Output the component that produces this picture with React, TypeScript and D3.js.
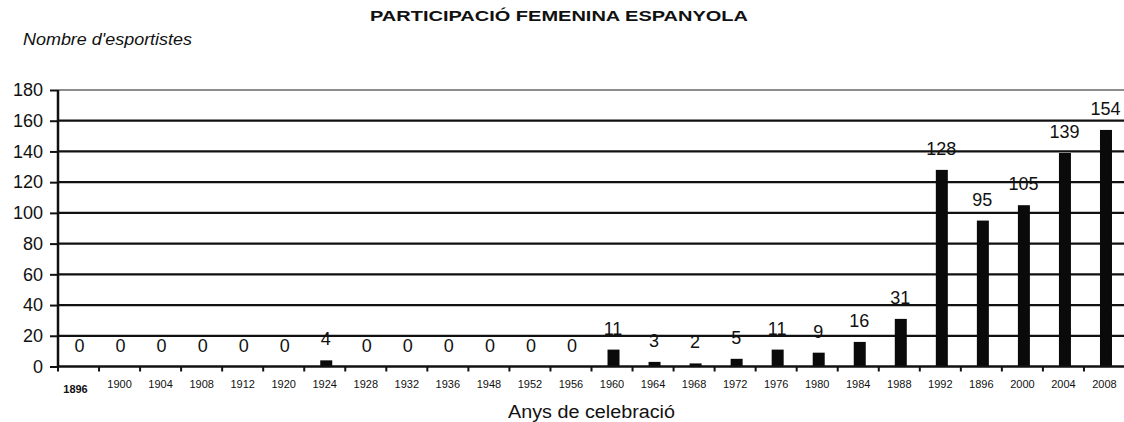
import React from 'react';
import * as d3 from 'd3';

const years = [
  '1896', '1900', '1904', '1908', '1912', '1920', '1924', '1928', '1932', '1936', '1948', '1952', '1956',
  '1960', '1964', '1968', '1972', '1976', '1980', '1984', '1988', '1992', '1896', '2000', '2004', '2008',
];
const athletes = [0, 0, 0, 0, 0, 0, 4, 0, 0, 0, 0, 0, 0, 11, 3, 2, 5, 11, 9, 16, 31, 128, 95, 105, 139, 154];
const yTicks = [0, 20, 40, 60, 80, 100, 120, 140, 160, 180];

const title = 'PARTICIPACIÓ FEMENINA ESPANYOLA';
const yTitle = "Nombre d'esportistes";
const xTitle = 'Anys de celebració';

export default function App() {
  const svgRef = React.useRef<SVGSVGElement | null>(null);

  React.useEffect(() => {
    document.body.style.margin = '0';
    const width = 1124;
    const height = 422;
    const margin = { top: 90, right: -1, bottom: 55.5, left: 58 };
    const innerW = width - margin.left - margin.right;
    const innerH = height - margin.top - margin.bottom;

    const svg = d3.select(svgRef.current);
    svg.selectAll('*').remove();
    svg.attr('width', width).attr('height', height);
    svg.append('rect').attr('width', width).attr('height', height).attr('fill', '#fff');

    const font = 'Liberation Sans, Arial, sans-serif';

    const x = d3
      .scaleBand<number>()
      .domain(years.map((_, i) => i))
      .range([0, innerW])
      .padding(0);

    const y = d3.scaleLinear().domain([0, 180]).range([innerH, 0]);

    const g = svg.append('g').attr('transform', `translate(${margin.left},${margin.top})`);

    // Grid
    g.append('g')
      .selectAll('line')
      .data(yTicks.filter(d => d > 0))
      .join('line')
      .attr('x1', 0)
      .attr('x2', innerW)
      .attr('y1', d => y(d))
      .attr('y2', d => y(d))
      .attr('stroke', d => (d === 180 ? '#666' : '#111'))
      .attr('stroke-width', d => (d === 180 ? 1.6 : 2.2));

    // Bars
    const barW = 12;
    g.append('g')
      .selectAll('rect')
      .data(athletes)
      .join('rect')
      .attr('x', (_, i) => (x(i) as number) + x.bandwidth() / 2 - barW / 2 + 1.5)
      .attr('y', d => y(d))
      .attr('width', barW)
      .attr('height', d => innerH - y(d))
      .attr('fill', '#0a0a0a');

    // Value labels
    g.append('g')
      .selectAll('text')
      .data(athletes)
      .join('text')
      .attr('x', (_, i) => (x(i) as number) + x.bandwidth() / 2 + 1)
      .attr('y', d => y(d) - 15)
      .attr('text-anchor', 'middle')
      .attr('font-family', font)
      .attr('font-size', 18)
      .attr('fill', '#111')
      .text(d => d);

    // Y axis
    const yAxis = d3.axisLeft<number>(y).tickValues(yTicks).tickSize(8).tickPadding(6);
    g.append('g')
      .call(yAxis as any)
      .call(a => a.select('.domain').attr('stroke', '#111').attr('stroke-width', 2.5).attr('d', `M0,${innerH}V0`))
      .call(a => a.selectAll('line').attr('stroke', '#111').attr('stroke-width', 2))
      .call(a =>
        a.selectAll('text').attr('fill', '#111').attr('font-size', 18).attr('font-family', font).attr('dx', -1)
      );

    // X axis
    g.append('line')
      .attr('x1', 0)
      .attr('x2', innerW)
      .attr('y1', innerH)
      .attr('y2', innerH)
      .attr('stroke', '#111')
      .attr('stroke-width', 2.5);

    g.append('g')
      .selectAll('line')
      .data(years.map((_, i) => i))
      .join('line')
      .attr('x1', i => x(i) as number)
      .attr('x2', i => x(i) as number)
      .attr('y1', innerH)
      .attr('y2', innerH + 5)
      .attr('stroke', '#111')
      .attr('stroke-width', 2);

    g.append('g')
      .selectAll('text')
      .data(years)
      .join('text')
      .attr('x', (_, i) => (x(i) as number) + x.bandwidth() / 2 - (i === 0 ? 3 : 0))
      .attr('y', (_, i) => innerH + (i === 0 ? 26 : 21))
      .attr('text-anchor', 'middle')
      .attr('font-family', font)
      .attr('font-size', 11)
      .attr('font-weight', (_, i) => (i === 0 ? 'bold' : 'normal'))
      .attr('fill', '#111')
      .text(d => d);

    // Titles
    svg
      .append('text')
      .attr('x', 370)
      .attr('y', 21)
      .attr('font-family', font)
      .attr('font-size', 15.5)
      .attr('font-weight', 'bold')
      .attr('fill', '#111')
      .attr('textLength', 378)
      .attr('lengthAdjust', 'spacingAndGlyphs')
      .text(title);

    svg
      .append('text')
      .attr('x', 23)
      .attr('y', 45)
      .attr('font-family', font)
      .attr('font-size', 16.5)
      .attr('font-style', 'italic')
      .attr('fill', '#111')
      .attr('textLength', 169)
      .attr('lengthAdjust', 'spacingAndGlyphs')
      .text(yTitle);

    svg
      .append('text')
      .attr('x', 508)
      .attr('y', 418)
      .attr('font-family', font)
      .attr('font-size', 18)
      .attr('fill', '#111')
      .attr('textLength', 167)
      .attr('lengthAdjust', 'spacingAndGlyphs')
      .text(xTitle);
  }, []);

  return (
    <div style={{ width: 1124, height: 422 }}>
      <svg ref={svgRef} style={{ display: 'block' }} />
    </div>
  );
}
